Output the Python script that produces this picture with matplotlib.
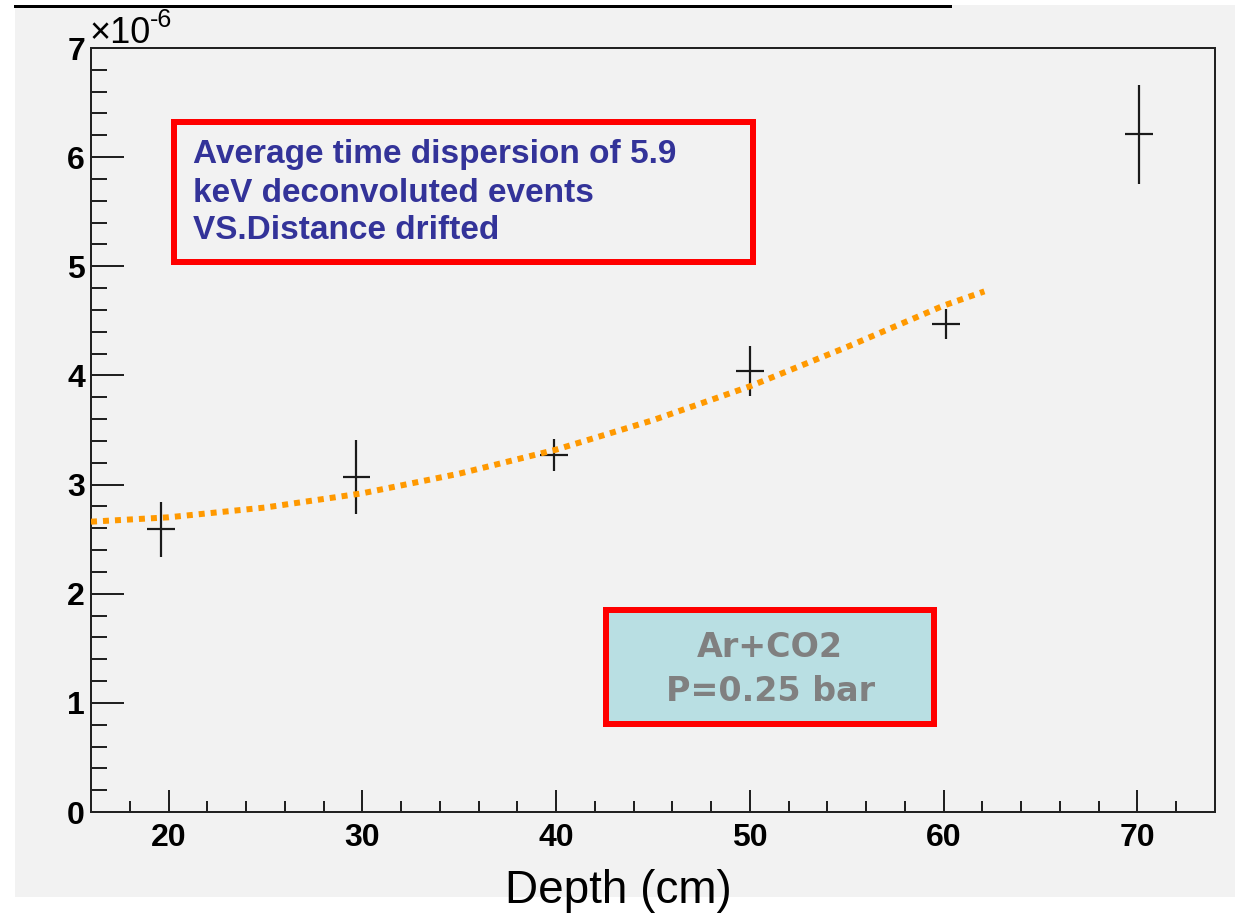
import matplotlib

matplotlib.use("Agg")
import matplotlib.pyplot as plt
from matplotlib.patches import Rectangle
from matplotlib.lines import Line2D
from matplotlib.ticker import MultipleLocator, FuncFormatter


W, H, DPI = 1238, 913, 100

# measured points (depth in cm, dispersion in units of 1e-6)
DEPTH = [19.6, 29.7, 39.9, 50.0, 60.1, 70.1]
DISPERSION = [2.59, 3.07, 3.27, 4.04, 4.47, 6.21]
DISPERSION_ERR = [0.25, 0.34, 0.15, 0.23, 0.135, 0.455]
DEPTH_ERR = [0.72, 0.72, 0.72, 0.72, 0.72, 0.72]

# fitted curve
FIT_X = [16, 20, 25, 30, 35, 40, 45, 50, 55, 60, 62.1]
FIT_Y = [2.66, 2.70, 2.79, 2.92, 3.10, 3.32, 3.59, 3.90, 4.26, 4.64, 4.77]

INFO_LINES = [
    "Average time dispersion of 5.9",
    "keV deconvoluted events",
    "VS.Distance drifted",
]
GAS_LINES = ["Ar+CO2", "P=0.25 bar"]

COLORS = {
    "pad": "#f2f2f2",
    "frame": "#222222",
    "fit": "#ff9900",
    "red": "#ff0000",
    "blue_text": "#333399",
    "gas_fill": "#b9dfe3",
    "gas_text": "#808080",
}

FONT = "Liberation Sans"


def fx(px):
    return px / W


def fy(py):
    return (H - py) / H


def px2pt(px):
    return px * 72.0 / DPI


def main():
    plt.rcParams["font.family"] = [FONT, "DejaVu Sans"]

    fig = plt.figure(figsize=(W / DPI, H / DPI), dpi=DPI)
    fig.patch.set_facecolor("white")

    # grey canvas and the stray black line at the top
    fig.patches.append(Rectangle((fx(15), fy(897)), fx(1235) - fx(15), fy(5) - fy(897),
                                 transform=fig.transFigure, facecolor=COLORS["pad"],
                                 edgecolor="none", zorder=-2))
    fig.lines.append(Line2D([fx(15), fx(950)], [fy(6.5), fy(6.5)], transform=fig.transFigure,
                            color="black", linewidth=px2pt(3), zorder=-1))

    ax = fig.add_axes([fx(91), fy(812), fx(1215) - fx(91), fy(48) - fy(812)])
    ax.set_facecolor(COLORS["pad"])
    ax.set_xlim(16, 74)
    ax.set_ylim(0, 7)

    for spine in ax.spines.values():
        spine.set_color(COLORS["frame"])
        spine.set_linewidth(px2pt(2))

    ax.xaxis.set_major_locator(MultipleLocator(10))
    ax.xaxis.set_minor_locator(MultipleLocator(2))
    ax.yaxis.set_major_locator(MultipleLocator(1))
    ax.yaxis.set_minor_locator(MultipleLocator(0.2))
    ax.yaxis.set_major_formatter(FuncFormatter(lambda v, _: f"{v:.0f}"))

    ax.tick_params(axis="both", which="both", direction="in", top=False, right=False,
                   colors=COLORS["frame"], labelcolor="black", width=px2pt(2),
                   labelsize=23)
    ax.tick_params(axis="x", which="major", length=px2pt(22), pad=px2pt(11))
    ax.tick_params(axis="x", which="minor", length=px2pt(11))
    ax.tick_params(axis="y", which="major", length=px2pt(33), pad=px2pt(6))
    ax.tick_params(axis="y", which="minor", length=px2pt(16))

    ax.errorbar(DEPTH, DISPERSION, yerr=DISPERSION_ERR, xerr=DEPTH_ERR, fmt="none",
                ecolor="#1a1a1a", elinewidth=px2pt(2.2), capsize=0, zorder=3)
    ax.plot(FIT_X, FIT_Y, color=COLORS["fit"], linewidth=px2pt(6),
            linestyle=(0, (1, 1)), dash_capstyle="butt", zorder=4)

    # info box
    fig.patches.append(Rectangle((fx(174), fy(262)), fx(753) - fx(174), fy(122) - fy(262),
                                 transform=fig.transFigure, facecolor="none",
                                 edgecolor=COLORS["red"], linewidth=px2pt(6), zorder=5))
    for line, base in zip(INFO_LINES, [163, 202, 239]):
        fig.text(fx(193), fy(base), line, fontsize=24, fontweight="bold",
                 color=COLORS["blue_text"], ha="left", va="baseline", zorder=6)

    # gas box
    fig.patches.append(Rectangle((fx(606), fy(724)), fx(934) - fx(606), fy(610) - fy(724),
                                 transform=fig.transFigure, facecolor=COLORS["gas_fill"],
                                 edgecolor=COLORS["red"], linewidth=px2pt(6), zorder=5))
    for line, base in zip(GAS_LINES, [657, 701]):
        fig.text(fx(770), fy(base), line, fontsize=24, fontweight="bold",
                 family="DejaVu Sans", color=COLORS["gas_text"],
                 ha="center", va="baseline", zorder=6)

    # axis multiplier, written as ROOT does it
    fig.text(fx(89), fy(43), "\u00d710", fontsize=26, color="black",
             ha="left", va="baseline")
    fig.text(fx(150), fy(27), "-6", fontsize=18, color="black",
             ha="left", va="baseline")
    fig.text(fx(618), fy(903), "Depth (cm)", fontsize=33, color="black",
             ha="center", va="baseline")

    fig.canvas.draw()
    for label in ax.get_xticklabels() + ax.get_yticklabels():
        label.set_fontweight("bold")

    fig.savefig("out.png", dpi=DPI)
    plt.close(fig)


if __name__ == "__main__":
    main()
